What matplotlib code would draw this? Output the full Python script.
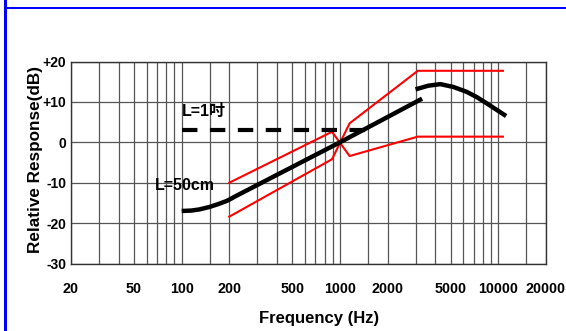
import matplotlib
matplotlib.use("Agg")
import matplotlib.pyplot as plt
from matplotlib.patches import Rectangle

# ---------------- data ----------------
grid_freqs = [20, 30, 40, 50, 60, 70, 80, 90, 100, 150, 200, 300, 400, 500, 600, 700,
              800, 900, 1000, 1500, 2000, 3000, 4000, 5000, 6000, 7000, 8000, 9000,
              10000, 15000, 20000]
tick_freqs = [20, 50, 100, 200, 500, 1000, 2000, 5000, 10000, 20000]
tick_labels = ["20", "50", "100", "200", "500", "1000", "2000", "5000", "10000", "20000"]
db_ticks = [-30, -20, -10, 0, 10, 20]
db_labels = ["-30", "-20", "-10", "0", "+10", "+20"]

# L=50cm response (low/mid part)
l50_freq = [100, 115, 130, 150, 170, 190, 200, 220, 1000, 3300]
l50_db = [-17.0, -16.9, -16.6, -16.0, -15.3, -14.6, -14.2, -13.3, 0.0, 10.8]
# L=50cm response (high part)
l50_hf_freq = [3000, 3600, 4300, 5200, 6300, 7300, 8400, 9700, 11200]
l50_hf_db = [13.1, 14.0, 14.4, 13.7, 12.5, 11.2, 9.7, 8.1, 6.5]
# L=1 inch response
l1_freq = [100, 1500]
l1_db = [3.0, 3.0]
# tolerance limits (red)
tol_freq = [200, 890, 1150, 3100, 10700]
tol_a_db = [-10.0, 2.6, -3.4, 1.4, 1.4]
tol_b_db = [-18.4, -4.2, 4.7, 17.7, 17.7]

# ---------------- figure ----------------
W, H = 566, 331
fig = plt.figure(figsize=(W / 100, H / 100), dpi=100)
fig.patch.set_facecolor("white")

left, right, top, bottom = 71, 546, 61.5, 263.5
ax = fig.add_axes([left / W, 1 - bottom / H, (right - left) / W, (bottom - top) / H])

narrow = ["Liberation Sans Narrow", "Liberation Sans", "DejaVu Sans"]
narrow_cjk = ["Liberation Sans Narrow", "Liberation Sans", "Noto Sans CJK SC", "DejaVu Sans"]

ax.set_xscale("log")
ax.set_xlim(20, 20000)
ax.set_ylim(-30, 20)

for f in grid_freqs:
    ax.axvline(f, color="#555555", lw=0.9, zorder=1)
for d in db_ticks:
    ax.axhline(d, color="#555555", lw=0.9, zorder=1)

ax.set_xticks(tick_freqs)
ax.set_xticklabels(tick_labels)
ax.xaxis.set_minor_locator(matplotlib.ticker.NullLocator())
ax.set_yticks(db_ticks)
ax.set_yticklabels(db_labels)
ax.tick_params(axis="both", length=0)
ax.tick_params(axis="x", pad=13)
ax.tick_params(axis="y", pad=3.5)
for lab in ax.get_xticklabels():
    lab.set_fontfamily(narrow)
    lab.set_fontweight("bold")
    lab.set_fontsize(10.3)
for lab in ax.get_yticklabels():
    lab.set_fontfamily(narrow)
    lab.set_fontweight("bold")
    lab.set_fontsize(10)

for s in ax.spines.values():
    s.set_color("#333333")
    s.set_linewidth(1.0)

# curves
ax.plot(tol_freq, tol_a_db, color="red", lw=1.5, zorder=3)
ax.plot(tol_freq, tol_b_db, color="red", lw=1.5, zorder=3)
ax.plot(l50_freq, l50_db, color="black", lw=3.2, zorder=4, solid_capstyle="butt")
ax.plot(l50_hf_freq, l50_hf_db, color="black", lw=3.2, zorder=4, solid_capstyle="butt")
ax.plot(l1_freq, l1_db, color="black", lw=3.0, zorder=4, dashes=(3.7, 3.0),
        dash_capstyle="butt")

ax.text(100, 7.6, "L=1吋", fontfamily=narrow_cjk, fontweight="bold", fontsize=11.5,
        ha="left", va="center", zorder=5)
ax.text(68, -10.6, "L=50cm", fontfamily=narrow, fontweight="bold", fontsize=11.5,
        ha="left", va="center", zorder=5)

ax.set_ylabel("Relative Response(dB)", fontfamily=["Liberation Sans", "DejaVu Sans"],
              fontweight="bold", fontsize=12.3, va="center", ha="center")
ax.yaxis.set_label_coords((35.5 - left) / (right - left), (bottom - 159.5) / (bottom - top))
ax.set_xlabel("Frequency (Hz)", fontfamily=narrow, fontweight="bold", fontsize=12,
              va="center", ha="center")
ax.xaxis.set_label_coords((319 - left) / (right - left), (bottom - 318) / (bottom - top))

# blue page border
fig.add_artist(Rectangle((3.6 / W, 0), 3.6 / W, 1, transform=fig.transFigure,
                         color="#0000ff", lw=0, zorder=10))
fig.add_artist(Rectangle((3.6 / W, 1 - 9.0 / H), 1, 2.3 / H, transform=fig.transFigure,
                         color="#0000ff", lw=0, zorder=10))

fig.savefig("out.png", dpi=100)
